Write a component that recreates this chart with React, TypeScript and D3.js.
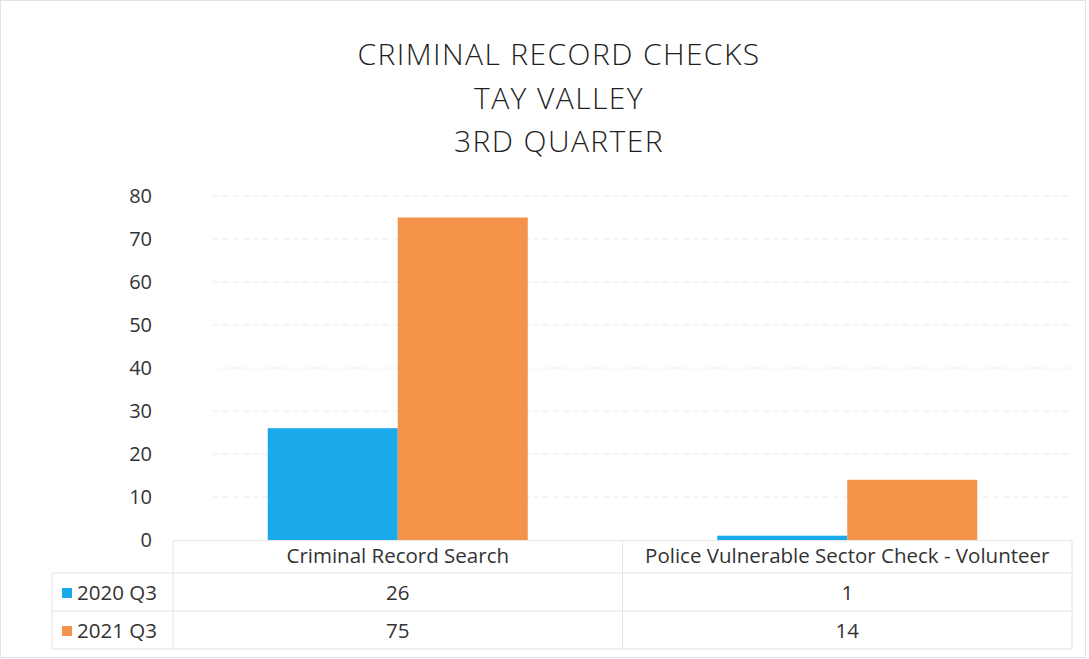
import React from 'react';
import * as d3 from 'd3';

const TITLE_LINES = ['CRIMINAL RECORD CHECKS', 'TAY VALLEY', '3RD QUARTER'];
const CATEGORIES = ['Criminal Record Search', 'Police Vulnerable Sector Check - Volunteer'];
const SERIES_NAMES = ['2020 Q3', '2021 Q3'];
const SERIES_2020 = [26, 1];
const SERIES_2021 = [75, 14];
const COLORS = ['#1aa9ea', '#f5934a'];
const Y_TICKS = [0, 10, 20, 30, 40, 50, 60, 70, 80];

const W = 1089;
const H = 659;
const FONT = "'Open Sans', 'Noto Sans', sans-serif";

export default function App() {
  const svgRef = React.useRef<SVGSVGElement>(null);

  React.useEffect(() => {
    const svg = d3.select(svgRef.current);
    svg.selectAll('*').remove();

    const plotLeft = 173;
    const plotRight = 1072;
    const x = d3.scaleBand<string>()
      .domain(CATEGORIES)
      .range([plotLeft, plotRight])
      .paddingInner(0)
      .paddingOuter(0);
    const inner = d3.scaleBand<number>()
      .domain([0, 1])
      .range([0, 260])
      .padding(0);
    const y = d3.scaleLinear().domain([0, 80]).range([540, 196]);

    svg.append('rect')
      .attr('x', 0.5).attr('y', 0.5)
      .attr('width', W - 4).attr('height', H - 2)
      .attr('fill', '#fff')
      .attr('stroke', '#e2e2e2');

    // title
    TITLE_LINES.forEach((t, i) => {
      svg.append('text')
        .attr('x', 559)
        .attr('y', 65 + i * 43.5)
        .attr('text-anchor', 'middle')
        .attr('font-family', FONT)
        .attr('font-weight', 300)
        .attr('font-size', 30)
        .attr('letter-spacing', 1.4)
        .attr('fill', '#1f1f1f')
        .text(t);
    });

    // gridlines + y labels
    for (const v of Y_TICKS) {
      if (v > 0) {
        svg.append('line')
          .attr('x1', plotLeft + 40).attr('x2', plotRight)
          .attr('y1', y(v)).attr('y2', y(v))
          .attr('stroke', '#ececec')
          .attr('stroke-width', 1)
          .attr('stroke-dasharray', '6 4');
      }
      svg.append('text')
        .attr('x', 152)
        .attr('y', y(v))
        .attr('dy', '0.35em')
        .attr('text-anchor', 'end')
        .attr('font-family', FONT)
        .attr('font-size', 20)
        .attr('fill', '#333')
        .text(v);
    }

    // bars
    const series = [SERIES_2020, SERIES_2021];
    series.forEach((vals, si) => {
      vals.forEach((v, ci) => {
        const cx = x(CATEGORIES[ci])! + x.bandwidth() / 2 - 130;
        svg.append('rect')
          .attr('x', cx + inner(si)!)
          .attr('y', y(v))
          .attr('width', inner.bandwidth())
          .attr('height', y(0) - y(v))
          .attr('fill', COLORS[si]);
      });
    });

    // data table
    const rowLines = [573, 611, 649];
    const tableLeft = 52;
    svg.append('line')
      .attr('x1', plotLeft).attr('x2', plotRight)
      .attr('y1', 540.5).attr('y2', 540.5)
      .attr('stroke', '#e4e4e4');
    rowLines.forEach((ly) => {
      svg.append('line')
        .attr('x1', tableLeft).attr('x2', plotRight)
        .attr('y1', ly).attr('y2', ly)
        .attr('stroke', '#e4e4e4');
    });
    [plotLeft, x(CATEGORIES[1])!, plotRight].forEach((lx) => {
      svg.append('line')
        .attr('x1', lx).attr('x2', lx)
        .attr('y1', 541).attr('y2', 649)
        .attr('stroke', '#e4e4e4');
    });
    svg.append('line')
      .attr('x1', tableLeft).attr('x2', tableLeft)
      .attr('y1', 573).attr('y2', 649)
      .attr('stroke', '#e4e4e4');

    CATEGORIES.forEach((c) => {
      svg.append('text')
        .attr('x', x(c)! + x.bandwidth() / 2)
        .attr('y', 556)
        .attr('dy', '0.35em')
        .attr('text-anchor', 'middle')
        .attr('font-family', FONT)
        .attr('font-size', 20.5)
        .attr('fill', '#333')
        .text(c);
    });

    series.forEach((vals, si) => {
      const ry = 593 + si * 38;
      svg.append('rect')
        .attr('x', 62).attr('y', ry - 5)
        .attr('width', 10).attr('height', 10)
        .attr('fill', COLORS[si]);
      svg.append('text')
        .attr('x', 77)
        .attr('y', ry)
        .attr('dy', '0.35em')
        .attr('font-family', FONT)
        .attr('font-size', 20.5)
        .attr('fill', '#333')
        .text(SERIES_NAMES[si]);
      vals.forEach((v, ci) => {
        svg.append('text')
          .attr('x', x(CATEGORIES[ci])! + x.bandwidth() / 2)
          .attr('y', ry)
          .attr('dy', '0.35em')
          .attr('text-anchor', 'middle')
          .attr('font-family', FONT)
          .attr('font-size', 20.5)
          .attr('fill', '#333')
          .text(v);
      });
    });
  }, []);

  return (
    <div style={{ position: 'absolute', left: 0, top: 0 }}>
      <svg ref={svgRef} width={W} height={H} style={{ display: 'block' }} />
    </div>
  );
}
